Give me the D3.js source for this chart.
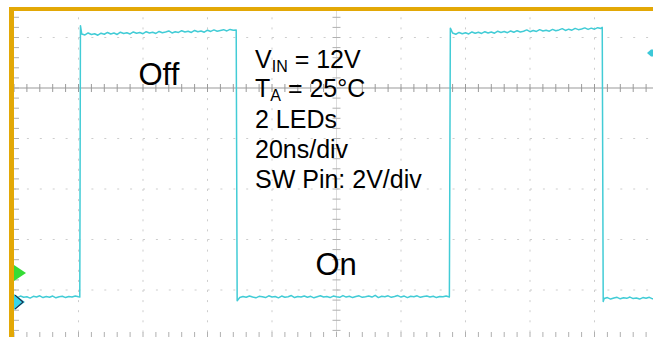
<!DOCTYPE html>
<html>
<head>
<meta charset="utf-8">
<script src="https://cdn.jsdelivr.net/npm/d3@7"></script>
<style>
  body { margin: 0; background: #fff; }
  svg { display: block; }
  text { font-family: "Liberation Sans", Arial, sans-serif; fill: #000; }
</style>
</head>
<body>
<div id="scope"></div>
<script>
// Scope capture: SW pin, 20ns/div, 2V/div
const width = 653;
const height = 337;

// sampled trace, 1 ns per sample, volts
const low1Start = 0;
const low1 = [0.22, 0.18, 0.24, 0.19, 0.21, 0.16, 0.23, 0.20, 0.25, 0.18, 0.22, 0.19, 0.24, 0.17, 0.21, 0.23, 0.18, 0.22, 0.20, 0.24, 0.21];
const high1Start = 21;
const high1 = [10.62, 10.58, 10.66, 10.60, 10.63, 10.57, 10.65, 10.61, 10.68, 10.62,
  10.66, 10.60, 10.69, 10.64, 10.67, 10.62, 10.70, 10.65, 10.68, 10.63,
  10.71, 10.66, 10.69, 10.64, 10.72, 10.67, 10.70, 10.74, 10.66, 10.71,
  10.68, 10.75, 10.70, 10.73, 10.68, 10.76, 10.71, 10.74, 10.69, 10.77,
  10.72, 10.78, 10.73, 10.76, 10.79, 10.74, 10.80, 10.77];
const low2Start = 70;
const low2 = [0.18, 0.22, 0.19, 0.24, 0.20, 0.17, 0.23, 0.21, 0.18, 0.25,
  0.20, 0.22, 0.17, 0.24, 0.19, 0.21, 0.26, 0.18, 0.22, 0.20,
  0.24, 0.19, 0.23, 0.17, 0.21, 0.25, 0.20, 0.22, 0.18, 0.24,
  0.21, 0.19, 0.26, 0.20, 0.23, 0.18, 0.22, 0.25, 0.19, 0.21,
  0.24, 0.20, 0.27, 0.18, 0.23, 0.21, 0.25, 0.19, 0.22, 0.26,
  0.20, 0.24, 0.18, 0.23, 0.21, 0.25, 0.19, 0.22, 0.24, 0.20,
  0.23, 0.18, 0.22, 0.21, 0.24];
const high2Start = 136;
const high2 = [10.66, 10.61, 10.68, 10.63, 10.67, 10.62, 10.70, 10.65, 10.69, 10.64,
  10.71, 10.66, 10.70, 10.65, 10.73, 10.68, 10.72, 10.67, 10.74, 10.69,
  10.75, 10.70, 10.73, 10.78, 10.71, 10.76, 10.72, 10.79, 10.74, 10.77,
  10.73, 10.80, 10.75, 10.78, 10.83, 10.76, 10.81, 10.77, 10.84, 10.79,
  10.82, 10.86, 10.80, 10.85, 10.81, 10.87, 10.84];
const low3Start = 183;
const low3 = [0.14, 0.18, 0.12, 0.16, 0.19, 0.13, 0.17, 0.15, 0.20, 0.14,
  0.16, 0.12, 0.18, 0.15, 0.19, 0.13, 0.17, 0.15];

// switching edges [ns, V]
const rise1 = [[20.4, 0.20], [20.6, 10.95]];
const fall1 = [[68.9, 10.78], [69.2, 0.05]];
const rise2 = [[135.0, 0.20], [135.3, 10.85]];
const fall2 = [[182.4, 10.88], [182.7, 0.02]];

const annotation = ['= 12V', '= 25°C', '2 LEDs', '20ns/div', 'SW Pin: 2V/div'];

const nsPerDiv = 20;
const voltsPerDiv = 2;
const groundDiv = -4.24; // channel ground marker, divisions from centre line

const svg = d3.select('#scope').append('svg')
  .attr('width', width)
  .attr('height', height);

svg.append('rect').attr('width', width).attr('height', height).attr('fill', '#fff');

// graticule: 10 divisions across, centre line at y=88
const gx = d3.scaleLinear().domain([-5, 5]).range([14, 659]);
const gy = d3.scaleLinear().domain([0, 1]).range([88, 37.5]);
const x = (t) => gx(t / nsPerDiv - 5);
const y = (v) => gy(groundDiv + v / voltsPerDiv);

svg.append('clipPath').attr('id', 'screen')
  .append('rect').attr('x', 14).attr('y', 11).attr('width', width - 14).attr('height', height - 11);

const screen = svg.append('g').attr('clip-path', 'url(#screen)');

const majorX = d3.range(-4, 5).filter((d) => d !== 0);
const majorY = d3.range(-5, 2).filter((d) => d !== 0);

screen.selectAll('line.vgrid').data(majorX).enter()
  .append('line').attr('class', 'vgrid')
  .attr('x1', (d) => gx(d)).attr('x2', (d) => gx(d))
  .attr('y1', gy(2)).attr('y2', height)
  .attr('stroke', '#cdcdcd').attr('stroke-width', 1)
  .attr('stroke-dasharray', '2,8.1');

screen.selectAll('line.hgrid').data(majorY).enter()
  .append('line').attr('class', 'hgrid')
  .attr('x1', gx(-5)).attr('x2', width)
  .attr('y1', (d) => gy(d)).attr('y2', (d) => gy(d))
  .attr('stroke', '#cdcdcd').attr('stroke-width', 1)
  .attr('stroke-dasharray', '2,10.9');

// centre lines with minor ticks
const minorX = d3.range(-25, 26).map((d) => d / 5);
const minorY = d3.range(-30, 11).map((d) => d / 5);

screen.append('line')
  .attr('x1', gx(-5)).attr('x2', width).attr('y1', gy(0)).attr('y2', gy(0))
  .attr('stroke', '#9a9a9a').attr('stroke-width', 1.2);
screen.selectAll('line.hx').data(minorX).enter()
  .append('line').attr('class', 'hx')
  .attr('x1', (d) => gx(d)).attr('x2', (d) => gx(d))
  .attr('y1', gy(0) - 4).attr('y2', gy(0) + 4)
  .attr('stroke', '#9a9a9a');

screen.append('line')
  .attr('x1', gx(0)).attr('x2', gx(0)).attr('y1', 11).attr('y2', height)
  .attr('stroke', '#dcdcdc');
screen.selectAll('line.vy').data(minorY).enter()
  .append('line').attr('class', 'vy')
  .attr('x1', gx(0) - 4).attr('x2', gx(0) + 4)
  .attr('y1', (d) => gy(d)).attr('y2', (d) => gy(d))
  .attr('stroke', '#b0b0b0');

// edge ticks (left and bottom)
screen.selectAll('line.ly').data(minorY).enter()
  .append('line').attr('class', 'ly')
  .attr('x1', gx(-5)).attr('x2', gx(-5) + 5)
  .attr('y1', (d) => gy(d)).attr('y2', (d) => gy(d))
  .attr('stroke', '#b0b0b0');
screen.selectAll('line.bx').data(minorX).enter()
  .append('line').attr('class', 'bx')
  .attr('x1', (d) => gx(d)).attr('x2', (d) => gx(d))
  .attr('y1', height - 5).attr('y2', height)
  .attr('stroke', '#b0b0b0');

// trace
const toPts = (start, vals) => vals.map((v, i) => [start + i, v]);
const trace = [].concat(
  toPts(low1Start, low1), rise1,
  toPts(high1Start, high1), fall1,
  toPts(low2Start, low2), rise2,
  toPts(high2Start, high2), fall2,
  toPts(low3Start, low3)
);

const line = d3.line().x((d) => x(d[0])).y((d) => y(d[1]));

screen.append('path')
  .datum(trace)
  .attr('d', line)
  .attr('fill', 'none')
  .attr('stroke', '#42ccd6')
  .attr('stroke-width', 1.5)
  .attr('stroke-linejoin', 'round');

// channel markers
screen.append('path')
  .attr('d', 'M14,265 L26,273 L14,281 Z')
  .attr('fill', '#35dc35');
screen.append('path')
  .attr('d', `M14,${y(0) - 8} L25,${y(0)} L14,${y(0) + 8} Z`)
  .attr('fill', '#38d6ea');
screen.append('path')
  .attr('d', `M15,${y(0) - 7} L23,${y(0)} L15,${y(0) + 7}`)
  .attr('fill', 'none').attr('stroke', '#1d2b4a').attr('stroke-width', 1.3);
screen.append('path')
  .attr('d', 'M647,53 L651,49.5 L653,49.5 L653,56.5 L651,56.5 Z')
  .attr('fill', '#3cc8d8');

// frame
svg.append('rect').attr('x', 9).attr('y', 7).attr('width', width - 9).attr('height', 4).attr('fill', '#e3a806');
svg.append('rect').attr('x', 9).attr('y', 7).attr('width', 5).attr('height', height - 7).attr('fill', '#e3a806');

// labels
svg.append('text').attr('x', 138.5).attr('y', 85).attr('font-size', 31).text('Off');
svg.append('text').attr('x', 315.5).attr('y', 275).attr('font-size', 31).text('On');

const notes = svg.append('g').attr('font-size', 25);
const l1 = notes.append('text').attr('x', 255).attr('y', 68);
l1.append('tspan').text('V');
l1.append('tspan').attr('font-size', 16).attr('dy', 4).text('IN');
l1.append('tspan').attr('dy', -4).text(' ' + annotation[0]);
const l2 = notes.append('text').attr('x', 255).attr('y', 97);
l2.append('tspan').text('T');
l2.append('tspan').attr('font-size', 16).attr('dy', 4).text('A');
l2.append('tspan').attr('dy', -4).text(' ' + annotation[1]);
annotation.slice(2).forEach((s, i) => {
  notes.append('text').attr('x', 255).attr('y', 128 + i * 30).text(s);
});
</script>
</body>
</html>
